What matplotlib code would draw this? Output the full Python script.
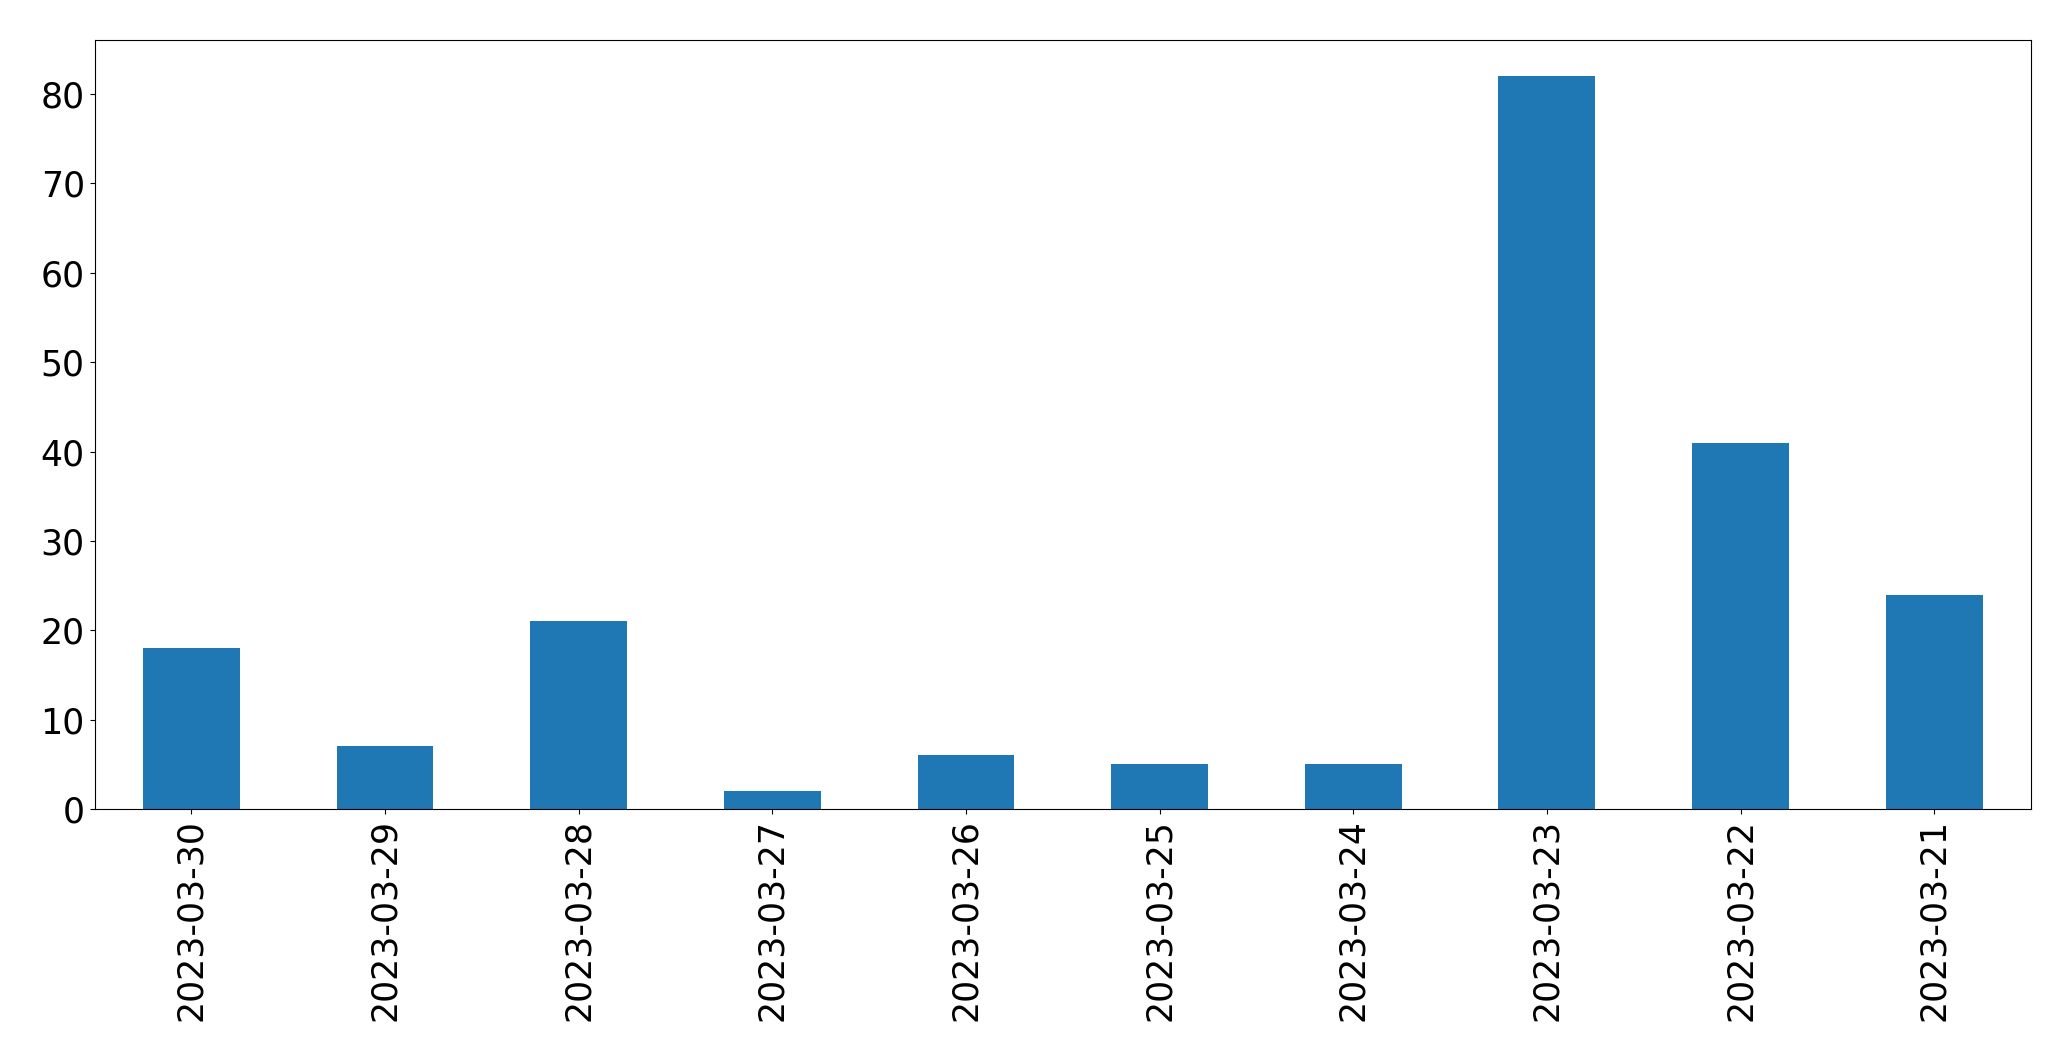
import matplotlib
matplotlib.use("Agg")
import matplotlib.pyplot as plt
import numpy as np

dates = ["2023-03-30", "2023-03-29", "2023-03-28", "2023-03-27", "2023-03-26",
         "2023-03-25", "2023-03-24", "2023-03-23", "2023-03-22", "2023-03-21"]
counts = [18, 7, 21, 2, 6, 5, 5, 82, 41, 24]

fig = plt.figure(figsize=(20.71, 10.61), dpi=100)
ax = fig.add_axes([94.5 / 2071, 1 - 809 / 1061, (2031 - 94.5) / 2071, (809 - 39.5) / 1061])

x = np.arange(len(dates))
ax.bar(x, counts, width=0.5, color="#1f77b4")
ax.set_xticks(x)
ax.set_xticklabels(dates, rotation=90)
ax.set_xlim(-0.5, len(dates) - 0.5)
ax.set_ylim(0, max(counts) * 1.05)
ax.tick_params(axis="both", labelsize=25)

fig.savefig("out.png", dpi=100)
